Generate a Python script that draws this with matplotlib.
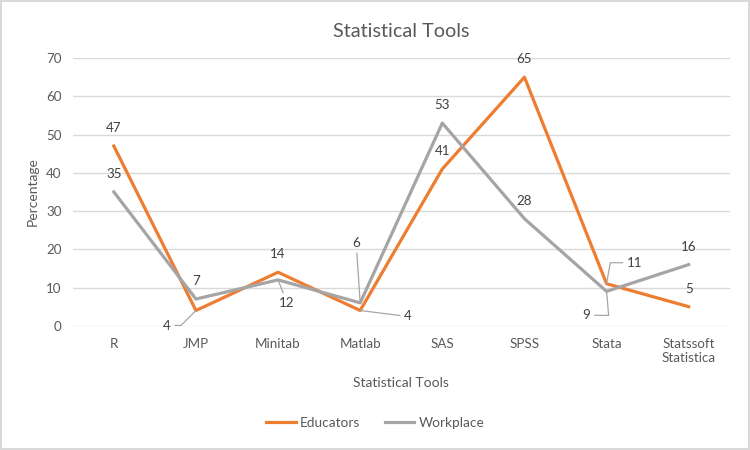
import numpy as np
import matplotlib.pyplot as plt

plt.rcParams['font.family'] = ['Lato', 'DejaVu Sans']

# Data
tools = ["R", "JMP", "Minitab", "Matlab", "SAS", "SPSS", "Stata", "Statssoft\nStatistica"]
educators = [47, 4, 14, 4, 41, 65, 11, 5]
workplace = [35, 7, 12, 6, 53, 28, 9, 16]

orange = '#ED7D31'
gray = '#A5A5A5'
txt = '#595959'

fig = plt.figure(figsize=(7.5, 4.5), dpi=100)
fig.patch.set_edgecolor('#D9D9D9')
fig.patch.set_linewidth(1.5)
ax = fig.add_axes([0.097, 0.276, 0.876, 0.595])

x = np.arange(len(tools))
ax.plot(x, educators, color=orange, lw=2.3, label='Educators', solid_joinstyle='round', zorder=3)
ax.plot(x, workplace, color=gray, lw=2.3, label='Workplace', solid_joinstyle='round', zorder=3)

ax.set_xlim(-0.5, len(tools) - 0.5)
ax.set_ylim(0, 70)
ax.set_yticks(range(0, 71, 10))
ax.set_xticks(x)
ax.set_xticklabels(tools)
ax.grid(axis='y', color='#D9D9D9', lw=1)
ax.set_axisbelow(True)
for s in ax.spines.values():
    s.set_visible(False)
ax.tick_params(length=0, colors=txt, labelsize=9.6)
ax.tick_params(axis='x', pad=9)
ax.tick_params(axis='y', pad=8)

ax.set_title("Statistical Tools", fontsize=14.3, color=txt, pad=15)
ax.set_ylabel("Percentage", fontsize=10, color=txt, labelpad=5)
ax.set_xlabel("Statistical Tools", fontsize=10, color=txt, labelpad=9)

# data labels: (offset in pixels, leader connection style)
lead = dict(arrowstyle='-', color='#A6A6A6', lw=0.9, shrinkA=1, shrinkB=0)
custom_e = {1: ((-29, -15), 'angle,angleA=0,angleB=45,rad=0'),
            3: ((48, -6), 'arc3'),
            6: ((28, 21), 'angle,angleA=0,angleB=80,rad=0')}
custom_w = {2: ((9, -23), 'arc3'),
            3: ((-4, 60), 'arc3'),
            6: ((-20, -24), 'angle,angleA=0,angleB=95,rad=0')}

for series, custom in ((educators, custom_e), (workplace, custom_w)):
    for i, v in enumerate(series):
        if i in custom:
            off, cs = custom[i]
            ax.annotate(str(v), (i, v), xytext=off, textcoords='offset pixels',
                        ha='center', va='center', fontsize=9.6, color='#404040',
                        arrowprops=dict(connectionstyle=cs, **lead))
        else:
            ax.annotate(str(v), (i, v), xytext=(0, 18), textcoords='offset pixels',
                        ha='center', va='center', fontsize=9.6, color='#404040')

fig.legend(loc='lower center', bbox_to_anchor=(0.5, 0.02), ncol=2, frameon=False,
           fontsize=9.8, labelcolor=txt, handlelength=2.2, handletextpad=0.3, columnspacing=1.8)

fig.savefig('out.png', dpi=100)
